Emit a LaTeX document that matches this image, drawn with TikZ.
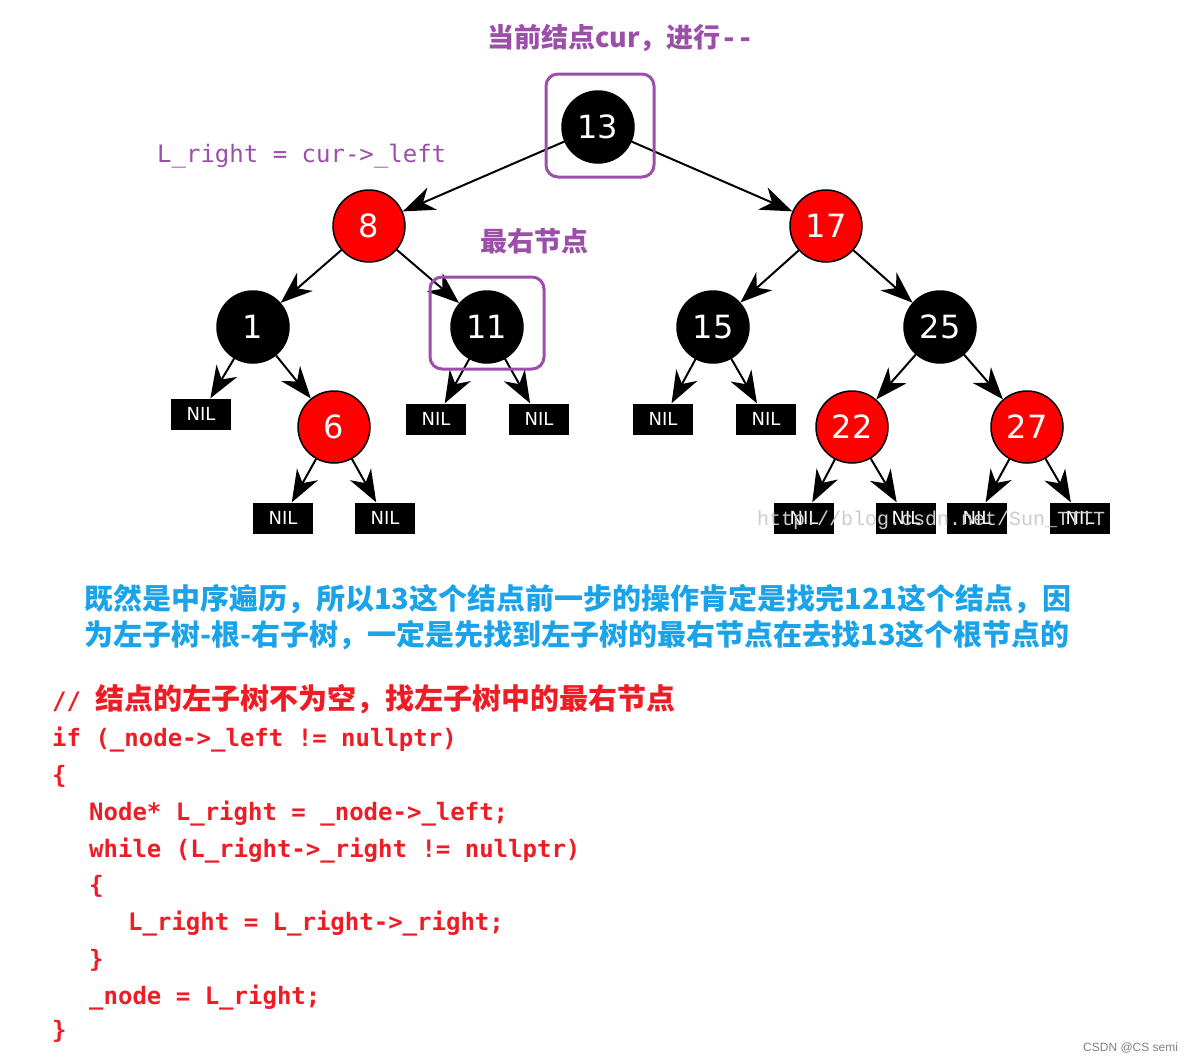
\documentclass[tikz,border=0pt]{standalone}
\usepackage{fontspec}
\setmainfont{DejaVu Sans}
\newfontfamily\cjk{Noto Sans CJK SC}
\newfontfamily\code{DejaVu Sans Mono}
\newfontfamily\wmark{Liberation Mono}
\newfontfamily\tagfont{Liberation Sans}
\usetikzlibrary{arrows.meta}
\definecolor{zi}{HTML}{9B4FA8}
\definecolor{lan}{HTML}{1AA3E8}
\definecolor{hong}{HTML}{EE1C25}
\begin{document}
\begin{tikzpicture}[x=1pt,y=-1pt,line
		join=round,line
		cap=round,
		blk/.style={circle,fill=black,draw=black,line width=1.5pt,minimum size=72pt,inner sep=0pt,text=white,font=\fontsize{32}{32}\selectfont},
		rd/.style={blk,fill=red},
		nil/.style={rectangle,fill=black,minimum width=60pt,minimum height=31pt,inner sep=0pt,text=white,font=\fontsize{18}{18}\selectfont},
		link/.style={-{Stealth[length=32pt,width=24pt,inset=10pt,line join=miter]},line width=2pt},
		hl/.style={draw=zi,line width=3pt,rounded corners=12pt},
		txt/.style={anchor=base west,inner sep=0pt},
		codeline/.style={txt,text=hong,font=\fontsize{24}{24}\selectfont\code\bfseries}]
		\def\hz{\fontsize{29}{29}\selectfont\cjk\bfseries}
		\useasboundingbox (0,0) rectangle (1194,1061);
		\node[blk] (N13) at (598,127) {13};
		\node[rd] (N8) at (369,226) {8};
		\node[rd] (N17) at (826,226) {17};
		\node[blk] (N1) at (253,327) {1};
		\node[blk] (N11) at (487,327) {11};
		\node[blk] (N15) at (713,327) {15};
		\node[blk] (N25) at (940,327) {25};
		\node[rd] (N6) at (334,427) {6};
		\node[rd] (N22) at (852,427) {22};
		\node[rd] (N27) at (1027,427) {27};
		\node[nil] (L1) at (201,414) {NIL};
		\node[nil] (L11a) at (436,419) {NIL};
		\node[nil] (L11b) at (539,419) {NIL};
		\node[nil] (L15a) at (663,419) {NIL};
		\node[nil] (L15b) at (766,419) {NIL};
		\node[nil] (L6a) at (283,518) {NIL};
		\node[nil] (L6b) at (385,518) {NIL};
		\node[nil] (L22a) at (804,518) {NIL};
		\node[nil] (L22b) at (906,518) {NIL};
		\node[nil] (L27a) at (977,518) {NIL};
		\node[nil] (L27b) at (1080,518) {NIL};
		\foreach \p/\c in {N13/N8,N13/N17,N8/N1,N8/N11,N1/L1,N1/N6,N11/L11a,N11/L11b,
			N6/L6a,N6/L6b,N17/N15,N17/N25,N15/L15a,N15/L15b,N25/N22,N25/N27,
			N22/L22a,N22/L22b,N27/L27a,N27/L27b}
			\draw[link] (\p)--(\c);
		\draw[hl] (546,74) rectangle (654,177);
		\draw[hl] (430,277) rectangle (544,369);
		\node[txt,text=zi,font=\fontsize{27}{27}\selectfont\cjk\bfseries] (title) at (487,47) {当前结点cur，进行{\code\bfseries -{}-}};
		\node[txt,text=zi,font=\fontsize{24}{24}\selectfont\code] (lr) at (157,162) {L\_right = cur->\_left};
		\node[txt,text=zi,font=\fontsize{27}{27}\selectfont\cjk\bfseries] (mr) at (480,251) {最右节点};
		\node[txt,text=gray!40,font=\fontsize{20}{20}\selectfont\wmark] (wm) at (757,525) {http://blog.csdn.net/Sun\_TTTT};
		\node[txt,text=lan,font=\hz] (s1) at (84,609) {既然是中序遍历，所以13这个结点前一步的操作肯定是找完121这个结点，因};
		\node[txt,text=lan,font=\hz] (s2) at (84,645) {为左子树-根-右子树，一定是先找到左子树的最右节点在去找13这个根节点的};
		\node[codeline] (c0) at (52,709) {// {\hz 结点的左子树不为空，找左子树中的最右节点}};
		\node[codeline] (c1) at (52,746) {if (\_node->\_left != nullptr)};
		\node[codeline] (c2) at (52,783) {\{};
		\node[codeline] (c3) at (89,820) {Node* L\_right = \_node->\_left;};
		\node[codeline] (c4) at (89,857) {while (L\_right->\_right != nullptr)};
		\node[codeline] (c5) at (89,893) {\{};
		\node[codeline] (c6) at (128,930) {L\_right = L\_right->\_right;};
		\node[codeline] (c7) at (89,967) {\}};
		\node[codeline] (c8) at (89,1004) {\_node = L\_right;};
		\node[codeline] (c9) at (52,1038) {\}};
		\node[txt,text=gray,font=\fontsize{12}{12}\selectfont\tagfont] (tag) at (1083,1051) {CSDN @CS semi};
\end{tikzpicture}
\end{document}
